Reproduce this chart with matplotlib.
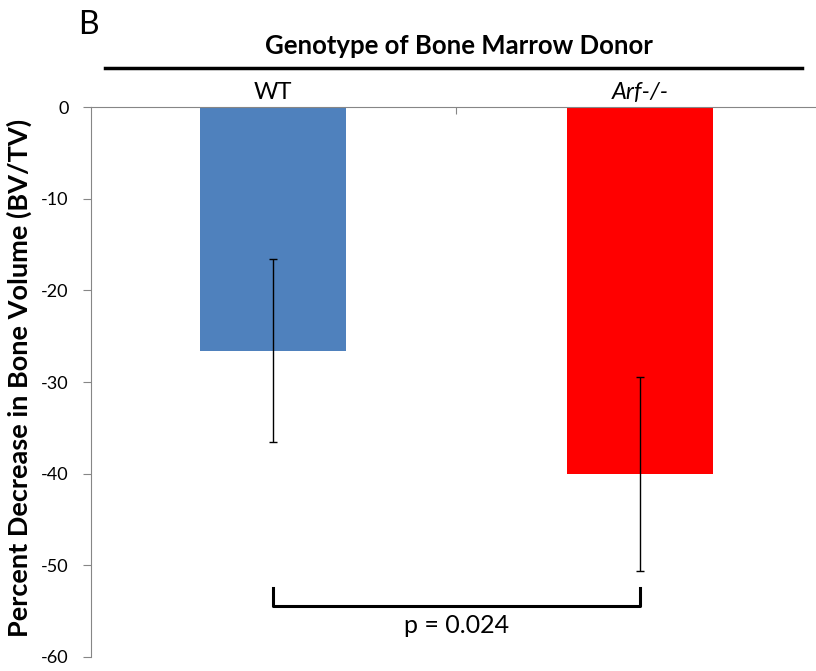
import matplotlib.pyplot as plt

# data
groups = ["WT", "Arf-/-"]
means = [-26.6, -40.0]
errors = [10.0, 10.6]
bar_colors = ["#4F81BD", "#FF0000"]
y_ticks = [0, -10, -20, -30, -40, -50, -60]
p_text = "p = 0.024"

plt.rcParams['font.family'] = ['Lato', 'DejaVu Sans']

fig = plt.figure(figsize=(8.16, 6.71), dpi=100)
ax = fig.add_axes([0.1115, 0.0209, 0.8885, 0.8196])

x = list(range(len(groups)))
ax.bar(x, means, width=0.4, color=bar_colors, zorder=2)
ax.errorbar(x, means, yerr=errors, fmt='none', ecolor='black',
            elinewidth=1, capsize=3, capthick=1, zorder=3)

ax.set_xlim(-0.496, 1.48)
ax.set_ylim(-60, 0)
ax.set_yticks(y_ticks)
ax.set_yticklabels([str(t) for t in y_ticks], fontsize=13)

# Excel-like axis look
for side in ["right", "bottom"]:
    ax.spines[side].set_visible(False)
ax.spines["left"].set_color("#868686")
ax.spines["top"].set_color("#868686")
ax.tick_params(axis='y', colors="#868686", length=6, labelcolor='black', pad=10)
ax.xaxis.tick_top()
ax.set_xticks([0.5])
ax.set_xticklabels([])
ax.tick_params(axis='x', direction='in', length=5, colors="#868686")

ax.set_ylabel("Percent Decrease in Bone Volume (BV/TV)", fontsize=19.5,
              fontweight='bold')
# anchor is the right edge of the rotated label
ax.yaxis.set_label_coords(-0.082, 0.507)

# category labels above the zero line, one per bar
for i, name in enumerate(groups):
    ax.annotate(name, (x[i], 0), xytext=(0, 3), textcoords='offset points',
                ha='center', va='bottom', fontsize=17,
                style='italic' if i == 1 else 'normal', annotation_clip=False)

# significance bracket
ax.plot([x[0], x[0], x[1], x[1]], [-52.5, -54.4, -54.4, -52.5],
        color='black', lw=2.2, solid_joinstyle='round', clip_on=False)
ax.text((x[0] + x[1]) / 2, -56.6, p_text, ha='center', va='center', fontsize=18)

# header above plot
fig.text(0.5625, 0.931, "Genotype of Bone Marrow Donor", ha='center',
         va='center', fontsize=18.5, fontweight='bold')
fig.add_artist(plt.Line2D([105 / 816, 802 / 816], [1 - 68 / 671, 1 - 68 / 671],
                          color='black', lw=2.5))
fig.text(0.108, 0.962, "B", ha='center', va='center', fontsize=23)

fig.savefig("out.png", dpi=100)
